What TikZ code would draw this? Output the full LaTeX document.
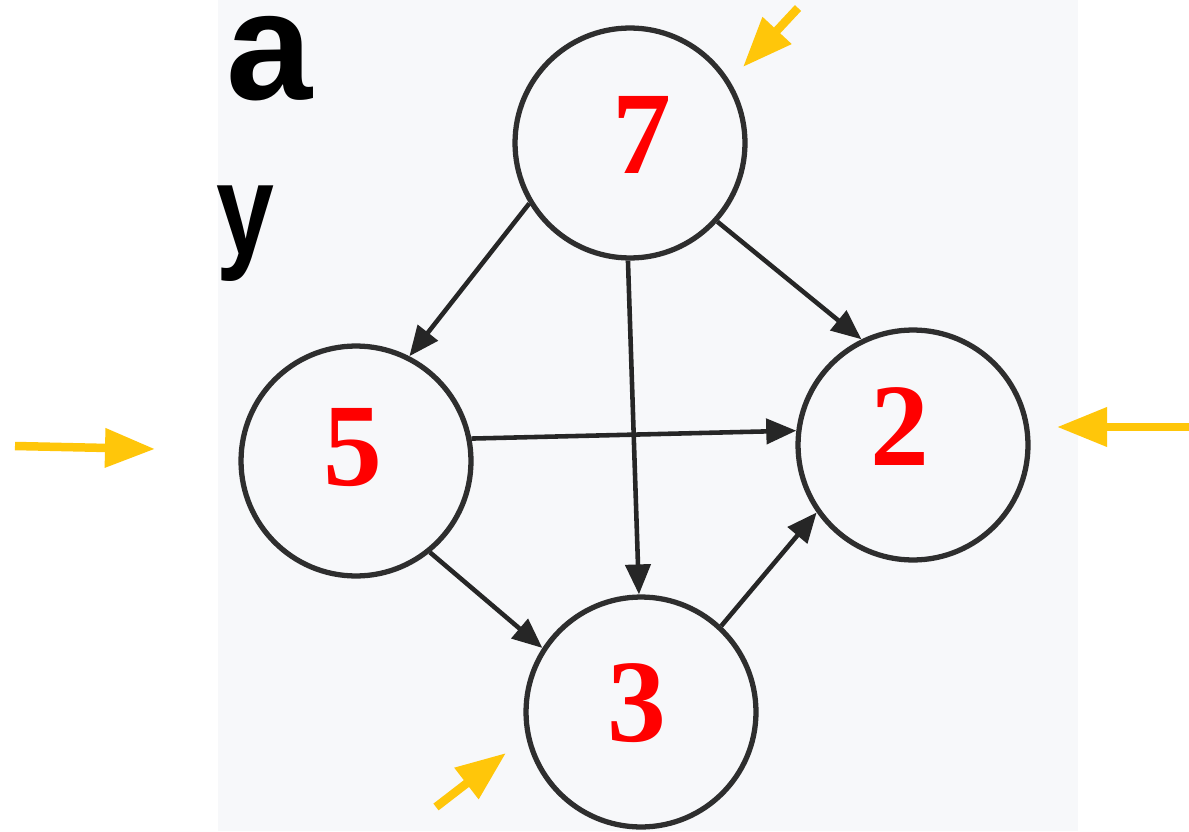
\documentclass[tikz,border=0pt]{standalone}
\usepackage{fontspec}
\setmainfont{Liberation Serif}
\newfontfamily\sansfam{Liberation Sans}
\usetikzlibrary{arrows.meta}
\definecolor{hint}{RGB}{255,198,10}
\definecolor{scanbg}{RGB}{247,248,250}
\tikzset{
  vtx/.style={circle, draw=black!82, line width=3pt, minimum size=4.6cm, inner sep=0pt},
  num/.style={text=red, font=\fontsize{67}{67}\selectfont\bfseries, inner sep=0pt},
  edge/.style={draw=black!85, line width=2.6pt, -{Triangle[length=0.6cm,width=0.5cm]}},
  hintarrow/.style={draw=hint, line width=0.17cm, -{Triangle[length=1cm,width=0.75cm]}},
}
\begin{document}
\begin{tikzpicture}[x=0.02cm,y=-0.02cm]
\useasboundingbox (0,0) rectangle (1189,831);
\fill[white] (0,0) rectangle (1189,831);
\fill[scanbg] (218,0) rectangle (1078,831);
\node[inner sep=0pt, font=\fontsize{88}{88}\selectfont\sansfam\bfseries, anchor=base east] (ta) at (313,100) {a};
\node[inner sep=0pt, font=\fontsize{74}{74}\selectfont\sansfam\bfseries, xscale=0.8, anchor=base east] (ty) at (275,255) {y};
\node[vtx] (n7) at (630,143) {};
\node[vtx] (n5) at (356,461) {};
\node[vtx] (n2) at (913,445) {};
\node[vtx] (n3) at (641,712) {};
\node[num] (l7) at (642,135) {7};
\node[num] (l5) at (353,448) {5};
\node[num] (l2) at (900,427) {2};
\node[num] (l3) at (637,703) {3};
\draw[edge] (n7.211) -- (n5.63);
\draw[edge] (n7.269) -- (n3.91);
\draw[edge] (n7.318) -- (n2.116);
\draw[edge] (n5.11) -- (n2.173);
\draw[edge] (n5.309) -- (n3.147);
\draw[edge] (n3.47) -- (n2.215);
\coordinate (h1s) at (15,446);
\coordinate (h1e) at (155,449);
\coordinate (h2s) at (1189,427);
\coordinate (h2e) at (1057,427);
\coordinate (h3s) at (798,8);
\coordinate (h3e) at (743,67);
\coordinate (h4s) at (436,807);
\coordinate (h4e) at (506,753);
\draw[hintarrow] (h1s) -- (h1e);
\draw[hintarrow] (h2s) -- (h2e);
\draw[hintarrow] (h3s) -- (h3e);
\draw[hintarrow] (h4s) -- (h4e);
\end{tikzpicture}
\end{document}
